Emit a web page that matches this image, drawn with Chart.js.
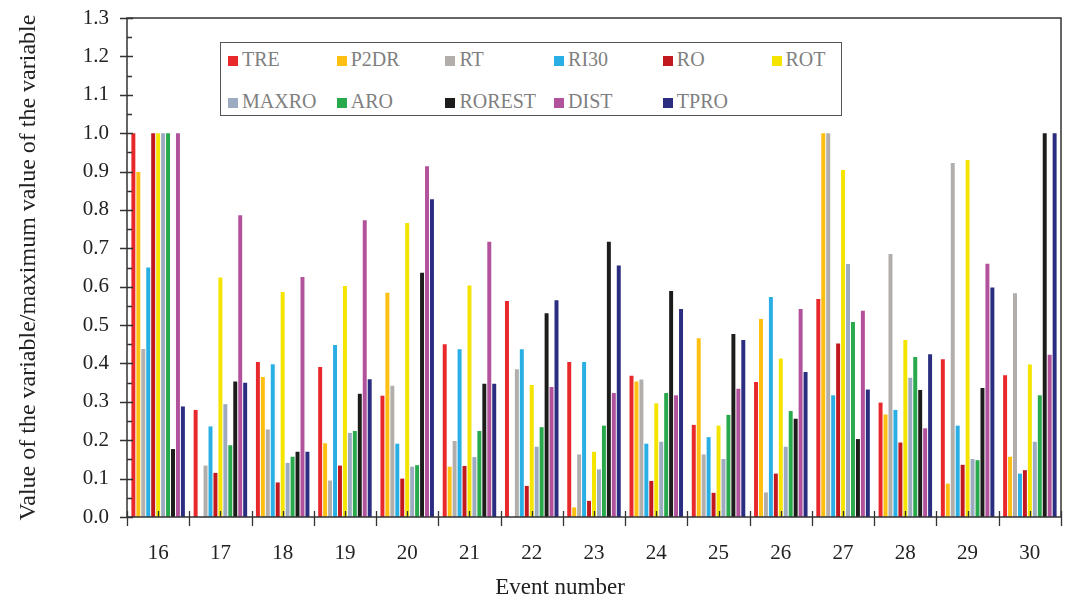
<!DOCTYPE html>
<html>
<head>
<meta charset="utf-8">
<script src="https://cdn.jsdelivr.net/npm/chart.js@4.4.1/dist/chart.umd.min.js"></script>
<style>
  html, body { margin: 0; padding: 0; background: #ffffff; }
  #wrap { position: relative; width: 1072px; height: 601px; }
  #chart { position: absolute; left: 0; top: 0; }
  #legend {
    position: absolute; left: 220px; top: 42px; width: 620px; height: 72px;
    border: 1.5px solid #555555; background: #ffffff;
    font-family: "Liberation Serif", "DejaVu Serif", serif; font-size: 20px; color: #7f7f7f;
  }
  .item { position: absolute; height: 22px; line-height: 22px; white-space: nowrap; }
  .sw { display: inline-block; width: 10px; height: 10px; margin-right: 4px; vertical-align: 0px; }
</style>
</head>
<body>
<div id="wrap">
  <canvas id="chart" width="1072" height="601"></canvas>
  <div id="legend"></div>
</div>
<script>
// Event numbers on the horizontal axis
const events = ['16', '17', '18', '19', '20', '21', '22', '23', '24', '25', '26', '27', '28', '29', '30'];

// Normalised values (value / maximum value) per variable, one entry per event
const TRE    = [1.000, 0.279, 0.404, 0.391, 0.316, 0.450, 0.563, 0.404, 0.368, 0.240, 0.352, 0.568, 0.298, 0.411, 0.369];
const P2DR   = [0.899, 0.000, 0.365, 0.192, 0.584, 0.131, 0.000, 0.025, 0.353, 0.466, 0.516, 1.000, 0.267, 0.087, 0.157];
const RT     = [0.438, 0.134, 0.228, 0.095, 0.342, 0.198, 0.385, 0.163, 0.358, 0.163, 0.064, 1.000, 0.685, 0.922, 0.583];
const RI30   = [0.650, 0.236, 0.398, 0.448, 0.191, 0.437, 0.437, 0.404, 0.191, 0.208, 0.573, 0.317, 0.279, 0.238, 0.113];
const RO     = [1.000, 0.115, 0.090, 0.134, 0.100, 0.133, 0.081, 0.042, 0.094, 0.063, 0.113, 0.452, 0.194, 0.136, 0.122];
const ROT    = [1.000, 0.624, 0.586, 0.602, 0.766, 0.603, 0.344, 0.170, 0.296, 0.238, 0.413, 0.904, 0.461, 0.930, 0.397];
const MAXRO  = [1.000, 0.294, 0.141, 0.219, 0.131, 0.156, 0.183, 0.124, 0.196, 0.151, 0.183, 0.659, 0.363, 0.151, 0.196];
const ARO    = [1.000, 0.187, 0.157, 0.224, 0.135, 0.224, 0.234, 0.238, 0.323, 0.266, 0.276, 0.508, 0.417, 0.148, 0.317];
const ROREST = [0.177, 0.353, 0.170, 0.321, 0.636, 0.347, 0.531, 0.717, 0.589, 0.477, 0.256, 0.203, 0.331, 0.336, 1.000];
const DIST   = [1.000, 0.786, 0.625, 0.773, 0.914, 0.717, 0.339, 0.323, 0.317, 0.334, 0.542, 0.537, 0.231, 0.660, 0.423];
const TPRO   = [0.288, 0.350, 0.170, 0.359, 0.828, 0.347, 0.565, 0.655, 0.542, 0.461, 0.378, 0.332, 0.424, 0.598, 1.000];

// Y-axis range and step
const yMin = 0, yMax = 1.3, yStep = 0.1;

const seriesNames  = ['TRE', 'P2DR', 'RT', 'RI30', 'RO', 'ROT', 'MAXRO', 'ARO', 'ROREST', 'DIST', 'TPRO'];
const seriesValues = [TRE, P2DR, RT, RI30, RO, ROT, MAXRO, ARO, ROREST, DIST, TPRO];
const seriesColors = ['#e8282b', '#fcbf12', '#b1aeac', '#2aafe5', '#c2191f', '#f4e400',
                      '#9dabc1', '#28a94b', '#1c1c1a', '#b2529c', '#2b2d80'];

const SERIF = '"Liberation Serif", "DejaVu Serif", serif';
const AXIS = '#333333';

// Frame, crossing major ticks and inner minor ticks
const axisFrame = {
  id: 'axisFrame',
  afterDraw(chart) {
    const { ctx, chartArea: a, scales: { x, y } } = chart;
    ctx.save();
    ctx.strokeStyle = AXIS;
    ctx.lineWidth = 1.5;
    ctx.beginPath();
    ctx.rect(a.left, a.top, a.right - a.left, a.bottom - a.top);
    ctx.stroke();
    ctx.lineWidth = 1.3;
    ctx.beginPath();
    // y ticks
    const n = Math.round((yMax - yMin) / yStep);
    for (let k = 0; k <= n; k++) {
      const py = Math.round(y.getPixelForValue(yMin + k * yStep)) + 0.5;
      ctx.moveTo(a.left - 7, py); ctx.lineTo(a.left + 6, py);
      if (k < n) {
        const pm = Math.round(y.getPixelForValue(yMin + (k + 0.5) * yStep)) + 0.5;
        ctx.moveTo(a.left, pm); ctx.lineTo(a.left + 5, pm);
      }
    }
    // x ticks: category boundaries cross the axis, centres point inward
    for (let i = 0; i <= events.length; i++) {
      const px = Math.round(x.getPixelForValue(i - 0.5)) + 0.5;
      ctx.moveTo(px, a.bottom - 6); ctx.lineTo(px, a.bottom + 9);
    }
    for (let i = 0; i < events.length; i++) {
      const px = Math.round(x.getPixelForValue(i)) + 0.5;
      ctx.moveTo(px, a.bottom); ctx.lineTo(px, a.bottom - 6);
    }
    ctx.stroke();
    // x axis title
    ctx.fillStyle = '#222222';
    ctx.font = '23px ' + SERIF;
    ctx.textAlign = 'center';
    ctx.textBaseline = 'middle';
    ctx.fillText('Event number', 560, 588);
    ctx.restore();
  }
};

const datasets = seriesNames.map((name, i) => ({
  label: name,
  data: seriesValues[i],
  backgroundColor: seriesColors[i],
  borderWidth: 0,
  categoryPercentage: 0.875,
  barPercentage: 0.8
}));

new Chart(document.getElementById('chart'), {
  type: 'bar',
  data: { labels: events, datasets },
  options: {
    responsive: false,
    animation: false,
    layout: { padding: { left: 0, right: 11, top: 18, bottom: 0 } },
    plugins: { legend: { display: false }, tooltip: { enabled: false } },
    scales: {
      x: {
        grid: { display: false, drawTicks: false },
        border: { display: false },
        ticks: { color: '#222222', font: { family: SERIF, size: 21 }, padding: 24, maxRotation: 0 },
        afterFit(s) { s.height = 84; s.paddingLeft = 0; s.paddingRight = 0; }
      },
      y: {
        min: yMin, max: yMax,
        grid: { display: false, drawTicks: false },
        border: { display: false },
        ticks: {
          stepSize: yStep,
          color: '#222222',
          font: { family: SERIF, size: 21 },
          padding: 18,
          callback: v => Number(v).toFixed(1)
        },
        title: {
          display: true,
          text: 'Value of the variable/maximum value of the variable',
          color: '#222222',
          font: { family: SERIF, size: 24 },
          padding: { top: 14, bottom: 0 }
        },
        afterFit(s) { s.width = 127; s.paddingTop = 0; s.paddingBottom = 0; }
      }
    }
  },
  plugins: [axisFrame]
});

// Legend: two rows of six columns
const legend = document.getElementById('legend');
seriesNames.forEach((name, i) => {
  const row = Math.floor(i / 6), col = i % 6;
  const el = document.createElement('div');
  el.className = 'item';
  el.style.left = (7 + col * 108.7) + 'px';
  el.style.top = (5 + row * 42) + 'px';
  const sw = document.createElement('span');
  sw.className = 'sw';
  sw.style.background = seriesColors[i];
  el.appendChild(sw);
  el.appendChild(document.createTextNode(name));
  legend.appendChild(el);
});
</script>
</body>
</html>
